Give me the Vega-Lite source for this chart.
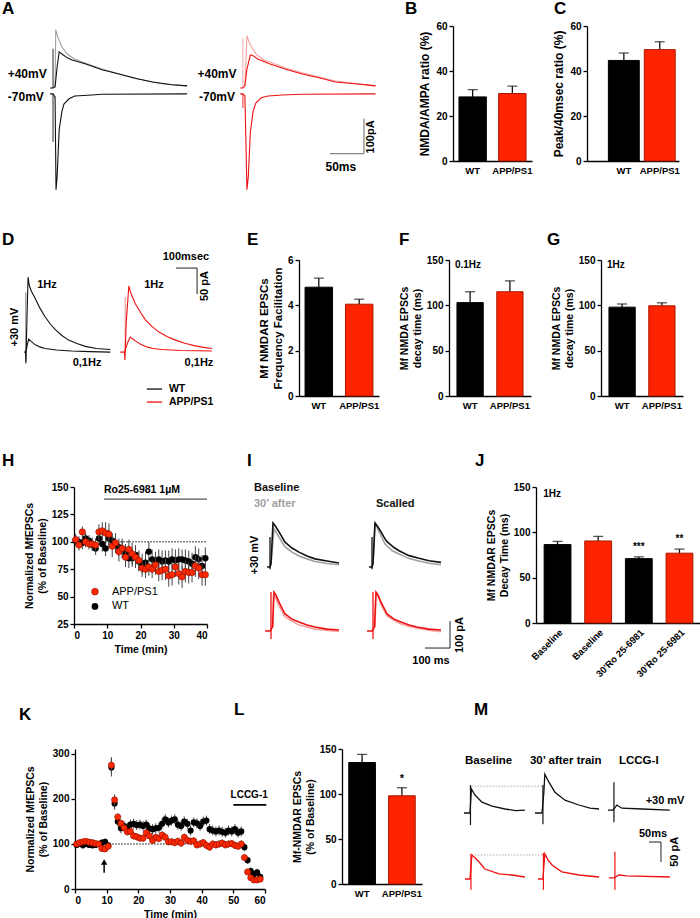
{
"$schema": "https://vega.github.io/schema/vega-lite/v6.json",
"background": "white",
"padding": {"left": 2, "top": 0, "right": 0, "bottom": 0},
"config": {
  "font": "Arial",
  "view": {"stroke": null},
  "axis": {"domainColor": "#000", "domainWidth": 1.3, "tickColor": "#000", "tickWidth": 1.3, "tickSize": 4, "labelFontSize": 10, "labelFontWeight": "bold", "labelColor": "#000", "titleFontSize": 10.5, "titleFontWeight": "bold", "titleColor": "#000", "grid": false, "labelPadding": 2, "titlePadding": 4},
  "axisBand": {"ticks": false, "labelPadding": 4, "labelFontSize": 9.5},
  "title": {"fontSize": 17, "fontWeight": "bold", "anchor": "start", "frame": "group", "color": "#000"},
  "text": {"fontWeight": "bold", "color": "#000", "fontSize": 11}
},
"datasets": {
  "A_bg": [
    {"tr":"a2","g":"WTgray","t":78,"i":0},{"tr":"a2","g":"WTgray","t":79,"i":163},{"tr":"a2","g":"WTgray","t":82,"i":143},{"tr":"a2","g":"WTgray","t":88,"i":114},{"tr":"a2","g":"WTgray","t":96,"i":94},{"tr":"a2","g":"WTgray","t":106,"i":80},{"tr":"a2","g":"WTgray","t":118,"i":71},{"tr":"a2","g":"WTgray","t":147,"i":51},{"tr":"a2","g":"WTgray","t":191,"i":26},{"tr":"a2","g":"WTgray","t":235,"i":9},{"tr":"a2","g":"WTgray","t":272,"i":3},
    {"tr":"a5","g":"APPpink","t":357,"i":3},{"tr":"a5","g":"APPpink","t":360,"i":146},{"tr":"a5","g":"APPpink","t":363,"i":129},{"tr":"a5","g":"APPpink","t":368,"i":109},{"tr":"a5","g":"APPpink","t":375,"i":91},{"tr":"a5","g":"APPpink","t":385,"i":77},{"tr":"a5","g":"APPpink","t":397,"i":69},{"tr":"a5","g":"APPpink","t":416,"i":54},{"tr":"a5","g":"APPpink","t":441,"i":40},{"tr":"a5","g":"APPpink","t":490,"i":17},{"tr":"a5","g":"APPpink","t":549,"i":3}
  ],
  "A_fg": [
    {"tr":"a1","g":"WT","t":70.6,"i":-3},{"tr":"a1","g":"WT","t":75,"i":-3},{"tr":"a1","g":"WT","t":78,"i":0},{"tr":"a1","g":"WT","t":81,"i":57},{"tr":"a1","g":"WT","t":84,"i":100},{"tr":"a1","g":"WT","t":88,"i":94},{"tr":"a1","g":"WT","t":96,"i":83},{"tr":"a1","g":"WT","t":103,"i":77},{"tr":"a1","g":"WT","t":122,"i":66},{"tr":"a1","g":"WT","t":147,"i":49},{"tr":"a1","g":"WT","t":172,"i":37},{"tr":"a1","g":"WT","t":199,"i":23},{"tr":"a1","g":"WT","t":221,"i":14},{"tr":"a1","g":"WT","t":250,"i":6},{"tr":"a1","g":"WT","t":272,"i":3},
    {"tr":"a3","g":"WT","t":70.6,"i":-20},{"tr":"a3","g":"WT","t":75,"i":-20},{"tr":"a3","g":"WT","t":78,"i":-29},{"tr":"a3","g":"WT","t":79.4,"i":-294},{"tr":"a3","g":"WT","t":81,"i":-257},{"tr":"a3","g":"WT","t":84,"i":-123},{"tr":"a3","g":"WT","t":88,"i":-71},{"tr":"a3","g":"WT","t":91,"i":-49},{"tr":"a3","g":"WT","t":98.5,"i":-34},{"tr":"a3","g":"WT","t":107,"i":-26},{"tr":"a3","g":"WT","t":132,"i":-23},{"tr":"a3","g":"WT","t":147,"i":-21},{"tr":"a3","g":"WT","t":272,"i":-20},
    {"tr":"a4","g":"APP","t":350,"i":-3},{"tr":"a4","g":"APP","t":354,"i":-3},{"tr":"a4","g":"APP","t":357,"i":3},{"tr":"a4","g":"APP","t":360,"i":51},{"tr":"a4","g":"APP","t":365,"i":91},{"tr":"a4","g":"APP","t":369,"i":89},{"tr":"a4","g":"APP","t":376,"i":80},{"tr":"a4","g":"APP","t":393,"i":66},{"tr":"a4","g":"APP","t":416,"i":51},{"tr":"a4","g":"APP","t":441,"i":37},{"tr":"a4","g":"APP","t":466,"i":26},{"tr":"a4","g":"APP","t":490,"i":14},{"tr":"a4","g":"APP","t":519,"i":9},{"tr":"a4","g":"APP","t":549,"i":3},
    {"tr":"a6","g":"APP","t":350,"i":-20},{"tr":"a6","g":"APP","t":354,"i":-20},{"tr":"a6","g":"APP","t":357,"i":-26},{"tr":"a6","g":"APP","t":360,"i":-294},{"tr":"a6","g":"APP","t":362,"i":-257},{"tr":"a6","g":"APP","t":365,"i":-129},{"tr":"a6","g":"APP","t":369,"i":-71},{"tr":"a6","g":"APP","t":373,"i":-46},{"tr":"a6","g":"APP","t":381,"i":-31},{"tr":"a6","g":"APP","t":391,"i":-26},{"tr":"a6","g":"APP","t":412,"i":-23},{"tr":"a6","g":"APP","t":441,"i":-21},{"tr":"a6","g":"APP","t":549,"i":-20}
  ],
  "A_art": [{"g":"WT","t":75,"i":109,"i2":-3},{"g":"WT","t":75,"i":-20,"i2":-157},{"g":"APPpink","t":354,"i":140,"i2":-3},{"g":"APP","t":354,"i":-20,"i2":-60}],
  "A_sb": [{"t":532,"t2":532,"i":-91,"i2":-191},{"t":482,"t2":532,"i":-191,"i2":-191}],
  "A_txt": [{"t":37,"i":37,"s":"+40mV"},{"t":316,"i":37,"s":"+40mV"},{"t":35,"i":-29,"s":"-70mV"},{"t":316,"i":-29,"s":"-70mV"},{"t":498,"i":-229,"s":"50ms"}],
  "A_vtxt": [{"t":542,"i":-143,"s":"100pA"}],
  "B": [{"g":"WT","v":28.5,"hi":31.7},{"g":"APP/PS1","v":30,"hi":33.3}],
  "C": [{"g":"WT","v":44.7,"hi":48},{"g":"APP/PS1","v":49.5,"hi":53}],
  "D_tr": [
    {"tr":"d1","g":"WT","t":105,"i":0},{"tr":"d1","g":"WT","t":112,"i":0},{"tr":"d1","g":"WT","t":114,"i":-20},{"tr":"d1","g":"WT","t":118,"i":50},{"tr":"d1","g":"WT","t":124,"i":144},{"tr":"d1","g":"WT","t":130,"i":128},{"tr":"d1","g":"WT","t":140,"i":117},{"tr":"d1","g":"WT","t":157,"i":104},{"tr":"d1","g":"WT","t":180,"i":85},{"tr":"d1","g":"WT","t":205,"i":68},{"tr":"d1","g":"WT","t":230,"i":54},{"tr":"d1","g":"WT","t":254,"i":43},{"tr":"d1","g":"WT","t":285,"i":32},{"tr":"d1","g":"WT","t":317,"i":23},{"tr":"d1","g":"WT","t":360,"i":16},{"tr":"d1","g":"WT","t":397,"i":11},{"tr":"d1","g":"WT","t":450,"i":7},{"tr":"d1","g":"WT","t":516,"i":5},
    {"tr":"d2","g":"WT","t":112,"i":0},{"tr":"d2","g":"WT","t":116,"i":5},{"tr":"d2","g":"WT","t":121,"i":15},{"tr":"d2","g":"WT","t":127,"i":25},{"tr":"d2","g":"WT","t":140,"i":20},{"tr":"d2","g":"WT","t":159,"i":14},{"tr":"d2","g":"WT","t":180,"i":10},{"tr":"d2","g":"WT","t":205,"i":7},{"tr":"d2","g":"WT","t":260,"i":4},{"tr":"d2","g":"WT","t":330,"i":2},{"tr":"d2","g":"WT","t":420,"i":1},{"tr":"d2","g":"WT","t":516,"i":0},
    {"tr":"d3","g":"APP","t":563,"i":0},{"tr":"d3","g":"APP","t":583,"i":0},{"tr":"d3","g":"APP","t":585,"i":-15},{"tr":"d3","g":"APP","t":592,"i":60},{"tr":"d3","g":"APP","t":604,"i":127},{"tr":"d3","g":"APP","t":612,"i":115},{"tr":"d3","g":"APP","t":635,"i":93},{"tr":"d3","g":"APP","t":660,"i":76},{"tr":"d3","g":"APP","t":683,"i":62},{"tr":"d3","g":"APP","t":715,"i":49},{"tr":"d3","g":"APP","t":746,"i":39},{"tr":"d3","g":"APP","t":785,"i":30},{"tr":"d3","g":"APP","t":826,"i":23},{"tr":"d3","g":"APP","t":870,"i":17},{"tr":"d3","g":"APP","t":921,"i":12},{"tr":"d3","g":"APP","t":960,"i":9},{"tr":"d3","g":"APP","t":1000,"i":7},
    {"tr":"d4","g":"APP","t":583,"i":0},{"tr":"d4","g":"APP","t":590,"i":8},{"tr":"d4","g":"APP","t":600,"i":20},{"tr":"d4","g":"APP","t":611,"i":29},{"tr":"d4","g":"APP","t":620,"i":26},{"tr":"d4","g":"APP","t":637,"i":21},{"tr":"d4","g":"APP","t":660,"i":15},{"tr":"d4","g":"APP","t":690,"i":10},{"tr":"d4","g":"APP","t":720,"i":7},{"tr":"d4","g":"APP","t":760,"i":5},{"tr":"d4","g":"APP","t":850,"i":3},{"tr":"d4","g":"APP","t":1000,"i":2}
  ],
  "D_art": [{"g":"WTgray","t":113,"i":115,"i2":-23},{"g":"APPpink","t":587,"i":106,"i2":-4}],
  "D_sb": [{"t":829,"t2":929,"i":161.5,"i2":161.5},{"t":929,"t2":929,"i":161.5,"i2":111.5}],
  "D_txt": [{"t":214,"i":129,"s":"1Hz"},{"t":405,"i":-21,"s":"0,1Hz"},{"t":724,"i":129,"s":"1Hz"},{"t":938,"i":-21,"s":"0,1Hz"},{"t":876,"i":183,"s":"100msec"}],
  "D_vtxt": [{"t":967,"i":127,"s":"50 pA"},{"t":62,"i":48,"s":"+30 mV"}],
  "D_leg": [{"g":"WT","t":690,"t2":762,"tx":795,"i":-71,"s":"WT"},{"g":"APP","t":690,"t2":762,"tx":795,"i":-96,"s":"APP/PS1"}],
  "E": [{"g":"WT","v":4.8,"hi":5.2},{"g":"APP/PS1","v":4.05,"hi":4.27}],
  "F": [{"g":"WT","v":103,"hi":115},{"g":"APP/PS1","v":115,"hi":127}],
  "G": [{"g":"WT","v":98,"hi":101.5},{"g":"APP/PS1","v":99.5,"hi":102.8}],
  "F_txt": [{"g":"WT","v":144,"s":"0.1Hz"}],
  "G_txt": [{"g":"WT","v":145,"s":"1Hz"}],
  "H": [
    {"t":0.5,"g":"WT","v":101,"e":5},{"t":1.5,"g":"WT","v":100,"e":5},{"t":2.5,"g":"WT","v":99,"e":6},{"t":3.5,"g":"WT","v":103,"e":5},{"t":4.5,"g":"WT","v":101,"e":5},{"t":5.5,"g":"WT","v":97,"e":5},{"t":6.5,"g":"WT","v":94,"e":6},{"t":7.5,"g":"WT","v":103,"e":6},{"t":8.5,"g":"WT","v":98,"e":7},{"t":9.5,"g":"WT","v":94,"e":7},
    {"t":10.5,"g":"WT","v":103,"e":8},{"t":11.5,"g":"WT","v":101,"e":7},{"t":12.5,"g":"WT","v":97,"e":7},{"t":13.5,"g":"WT","v":95,"e":8},{"t":14.5,"g":"WT","v":93,"e":8},{"t":15.5,"g":"WT","v":90,"e":8},{"t":16.5,"g":"WT","v":85,"e":9},{"t":17.5,"g":"WT","v":85,"e":8},{"t":18.5,"g":"WT","v":88,"e":9},{"t":19.5,"g":"WT","v":82,"e":9},
    {"t":20.5,"g":"WT","v":80,"e":9},{"t":21.5,"g":"WT","v":81,"e":10},{"t":22.5,"g":"WT","v":91,"e":9},{"t":23.5,"g":"WT","v":84,"e":9},{"t":24.5,"g":"WT","v":82,"e":9},{"t":25.5,"g":"WT","v":84,"e":9},{"t":26.5,"g":"WT","v":82,"e":10},{"t":27.5,"g":"WT","v":83,"e":9},{"t":28.5,"g":"WT","v":82,"e":10},{"t":29.5,"g":"WT","v":84,"e":10},
    {"t":30.5,"g":"WT","v":83,"e":10},{"t":31.5,"g":"WT","v":84,"e":10},{"t":32.5,"g":"WT","v":84,"e":9},{"t":33.5,"g":"WT","v":83,"e":10},{"t":34.5,"g":"WT","v":82,"e":10},{"t":35.5,"g":"WT","v":80,"e":10},{"t":36.5,"g":"WT","v":86,"e":10},{"t":37.5,"g":"WT","v":84,"e":10},{"t":38.5,"g":"WT","v":78,"e":10},{"t":39.5,"g":"WT","v":85,"e":10},
    {"t":0.5,"g":"APP","v":102,"e":5},{"t":1.5,"g":"APP","v":97,"e":5},{"t":2.5,"g":"APP","v":109,"e":5},{"t":3.5,"g":"APP","v":100,"e":5},{"t":4.5,"g":"APP","v":98,"e":5},{"t":5.5,"g":"APP","v":98,"e":6},{"t":6.5,"g":"APP","v":97,"e":6},{"t":7.5,"g":"APP","v":109,"e":7},{"t":8.5,"g":"APP","v":110,"e":8},{"t":9.5,"g":"APP","v":108,"e":10},
    {"t":10.5,"g":"APP","v":107,"e":10},{"t":11.5,"g":"APP","v":96,"e":10},{"t":12.5,"g":"APP","v":99,"e":9},{"t":13.5,"g":"APP","v":91,"e":9},{"t":14.5,"g":"APP","v":94,"e":9},{"t":15.5,"g":"APP","v":86,"e":9},{"t":16.5,"g":"APP","v":93,"e":9},{"t":17.5,"g":"APP","v":89,"e":10},{"t":18.5,"g":"APP","v":86,"e":10},{"t":19.5,"g":"APP","v":83,"e":9},
    {"t":20.5,"g":"APP","v":76,"e":8},{"t":21.5,"g":"APP","v":75,"e":8},{"t":22.5,"g":"APP","v":77,"e":8},{"t":23.5,"g":"APP","v":75,"e":8},{"t":24.5,"g":"APP","v":79,"e":9},{"t":25.5,"g":"APP","v":73,"e":9},{"t":26.5,"g":"APP","v":74,"e":9},{"t":27.5,"g":"APP","v":75,"e":10},{"t":28.5,"g":"APP","v":69,"e":10},{"t":29.5,"g":"APP","v":70,"e":10},
    {"t":30.5,"g":"APP","v":77,"e":9},{"t":31.5,"g":"APP","v":71,"e":10},{"t":32.5,"g":"APP","v":68,"e":10},{"t":33.5,"g":"APP","v":73,"e":10},{"t":34.5,"g":"APP","v":72,"e":10},{"t":35.5,"g":"APP","v":72,"e":9},{"t":36.5,"g":"APP","v":78,"e":10},{"t":37.5,"g":"APP","v":76,"e":10},{"t":38.5,"g":"APP","v":70,"e":10},{"t":39.5,"g":"APP","v":70,"e":10}
  ],
  "H_dot": [{"t":8.5,"t2":40,"v":100}],
  "H_ro": [{"t":9,"t2":40,"v":139}],
  "H_rotxt": [{"t":9,"v":147,"s":"Ro25-6981 1µM"}],
  "H_leg": [{"g":"APP","t":6.3,"tx":11.4,"v":54.5,"s":"APP/PS1"},{"g":"WT","t":6.3,"tx":11.4,"v":41,"s":"WT"}],
  "I_bg": [
    {"tr":"i2","g":"WTgray","t":256,"i":0},{"tr":"i2","g":"WTgray","t":268,"i":130},{"tr":"i2","g":"WTgray","t":276,"i":119},{"tr":"i2","g":"WTgray","t":288,"i":100},{"tr":"i2","g":"WTgray","t":312,"i":63},{"tr":"i2","g":"WTgray","t":340,"i":44},{"tr":"i2","g":"WTgray","t":368,"i":30},{"tr":"i2","g":"WTgray","t":400,"i":19},{"tr":"i2","g":"WTgray","t":432,"i":9},{"tr":"i2","g":"WTgray","t":480,"i":2},{"tr":"i2","g":"WTgray","t":528,"i":-3},
    {"tr":"i4","g":"WTgray","t":664,"i":0},{"tr":"i4","g":"WTgray","t":672,"i":152},{"tr":"i4","g":"WTgray","t":680,"i":135},{"tr":"i4","g":"WTgray","t":696,"i":105},{"tr":"i4","g":"WTgray","t":712,"i":74},{"tr":"i4","g":"WTgray","t":740,"i":50},{"tr":"i4","g":"WTgray","t":768,"i":37},{"tr":"i4","g":"WTgray","t":808,"i":20},{"tr":"i4","g":"WTgray","t":848,"i":11},{"tr":"i4","g":"WTgray","t":888,"i":3},{"tr":"i4","g":"WTgray","t":936,"i":-3},
    {"tr":"i6","g":"APPpink","t":264,"i":-233},{"tr":"i6","g":"APPpink","t":266,"i":-111},{"tr":"i6","g":"APPpink","t":276,"i":-130},{"tr":"i6","g":"APPpink","t":288,"i":-155},{"tr":"i6","g":"APPpink","t":312,"i":-196},{"tr":"i6","g":"APPpink","t":340,"i":-211},{"tr":"i6","g":"APPpink","t":368,"i":-226},{"tr":"i6","g":"APPpink","t":400,"i":-233},{"tr":"i6","g":"APPpink","t":432,"i":-241},{"tr":"i6","g":"APPpink","t":528,"i":-250},
    {"tr":"i8","g":"APPpink","t":672,"i":-233},{"tr":"i8","g":"APPpink","t":676,"i":-104},{"tr":"i8","g":"APPpink","t":684,"i":-120},{"tr":"i8","g":"APPpink","t":696,"i":-150},{"tr":"i8","g":"APPpink","t":720,"i":-192},{"tr":"i8","g":"APPpink","t":748,"i":-208},{"tr":"i8","g":"APPpink","t":776,"i":-222},{"tr":"i8","g":"APPpink","t":808,"i":-231},{"tr":"i8","g":"APPpink","t":840,"i":-238},{"tr":"i8","g":"APPpink","t":888,"i":-245},{"tr":"i8","g":"APPpink","t":936,"i":-251}
  ],
  "I_fg": [
    {"tr":"i1","g":"WT","t":240,"i":-11},{"tr":"i1","g":"WT","t":252,"i":-11},{"tr":"i1","g":"WT","t":256,"i":0},{"tr":"i1","g":"WT","t":264,"i":152},{"tr":"i1","g":"WT","t":276,"i":137},{"tr":"i1","g":"WT","t":288,"i":119},{"tr":"i1","g":"WT","t":312,"i":81},{"tr":"i1","g":"WT","t":340,"i":59},{"tr":"i1","g":"WT","t":368,"i":44},{"tr":"i1","g":"WT","t":400,"i":30},{"tr":"i1","g":"WT","t":432,"i":19},{"tr":"i1","g":"WT","t":480,"i":11},{"tr":"i1","g":"WT","t":528,"i":4},
    {"tr":"i3","g":"WT","t":648,"i":-11},{"tr":"i3","g":"WT","t":660,"i":-11},{"tr":"i3","g":"WT","t":664,"i":0},{"tr":"i3","g":"WT","t":672,"i":152},{"tr":"i3","g":"WT","t":684,"i":137},{"tr":"i3","g":"WT","t":696,"i":119},{"tr":"i3","g":"WT","t":712,"i":93},{"tr":"i3","g":"WT","t":720,"i":83},{"tr":"i3","g":"WT","t":748,"i":61},{"tr":"i3","g":"WT","t":768,"i":49},{"tr":"i3","g":"WT","t":808,"i":31},{"tr":"i3","g":"WT","t":848,"i":21},{"tr":"i3","g":"WT","t":888,"i":12},{"tr":"i3","g":"WT","t":936,"i":6},
    {"tr":"i5","g":"APP","t":232,"i":-248},{"tr":"i5","g":"APP","t":252,"i":-248},{"tr":"i5","g":"APP","t":262,"i":-233},{"tr":"i5","g":"APP","t":268,"i":-104},{"tr":"i5","g":"APP","t":276,"i":-115},{"tr":"i5","g":"APP","t":288,"i":-141},{"tr":"i5","g":"APP","t":312,"i":-185},{"tr":"i5","g":"APP","t":340,"i":-204},{"tr":"i5","g":"APP","t":368,"i":-215},{"tr":"i5","g":"APP","t":400,"i":-226},{"tr":"i5","g":"APP","t":432,"i":-233},{"tr":"i5","g":"APP","t":480,"i":-241},{"tr":"i5","g":"APP","t":528,"i":-244},
    {"tr":"i7","g":"APP","t":640,"i":-248},{"tr":"i7","g":"APP","t":660,"i":-248},{"tr":"i7","g":"APP","t":670,"i":-233},{"tr":"i7","g":"APP","t":676,"i":-104},{"tr":"i7","g":"APP","t":684,"i":-115},{"tr":"i7","g":"APP","t":696,"i":-141},{"tr":"i7","g":"APP","t":720,"i":-185},{"tr":"i7","g":"APP","t":748,"i":-204},{"tr":"i7","g":"APP","t":776,"i":-215},{"tr":"i7","g":"APP","t":808,"i":-226},{"tr":"i7","g":"APP","t":840,"i":-233},{"tr":"i7","g":"APP","t":888,"i":-241},{"tr":"i7","g":"APP","t":936,"i":-244}
  ],
  "I_art": [{"g":"WT","t":252,"i":100,"i2":-19},{"g":"WT","t":660,"i":100,"i2":-19},{"g":"APP","t":256,"i":-104,"i2":-278},{"g":"APP","t":664,"i":-104,"i2":-278}],
  "I_sb": [{"t":872,"t2":972,"i":-311,"i2":-311},{"t":972,"t2":972,"i":-211,"i2":-311}],
  "I_txtL": [{"g":"WT","t":188,"i":281,"s":"Baseline"},{"g":"WTgray","t":188,"i":222,"s":"30’ after"},{"g":"WT","t":676,"i":222,"s":"Scalled"}],
  "I_txtC": [{"g":"WT","t":896,"i":-359,"s":"100 ms"}],
  "I_vtxt": [{"g":"WT","t":192,"i":33,"s":"+30 mV"},{"g":"WT","t":1012,"i":-263,"s":"100 pA"}],
  "J": [{"c":"b1","g":"WT","v":86.5,"hi":90},{"c":"b2","g":"APP/PS1","v":90.5,"hi":95.5},{"c":"r1","g":"WT","v":71,"hi":73},{"c":"r2","g":"APP/PS1","v":77,"hi":81.5}],
  "J_stars": [{"c":"r1","v":84,"s":"***"},{"c":"r2","v":92.5,"s":"**"}],
  "J_hz": [{"c":"b1","v":142,"s":"1Hz"}],
  "K": [
    {"t":0.5,"g":"WT","v":98,"e":6},{"t":1.5,"g":"WT","v":100,"e":6},{"t":2.5,"g":"WT","v":97,"e":6},{"t":3.5,"g":"WT","v":100,"e":6},{"t":4.5,"g":"WT","v":98,"e":6},{"t":5.5,"g":"WT","v":97,"e":6},{"t":6.5,"g":"WT","v":98,"e":6},{"t":7.5,"g":"WT","v":100,"e":6},{"t":8.5,"g":"WT","v":103,"e":6},{"t":9.5,"g":"WT","v":105,"e":7},
    {"t":10.5,"g":"WT","v":97,"e":6},{"t":11.5,"g":"WT","v":270,"e":20},{"t":12.5,"g":"WT","v":190,"e":14},{"t":13.5,"g":"WT","v":150,"e":11},{"t":14.5,"g":"WT","v":135,"e":11},{"t":15.5,"g":"WT","v":140,"e":11},{"t":16.5,"g":"WT","v":136,"e":11},{"t":17.5,"g":"WT","v":143,"e":11},{"t":18.5,"g":"WT","v":145,"e":11},{"t":19.5,"g":"WT","v":142,"e":11},
    {"t":20.5,"g":"WT","v":143,"e":11},{"t":21.5,"g":"WT","v":140,"e":11},{"t":22.5,"g":"WT","v":143,"e":11},{"t":23.5,"g":"WT","v":135,"e":11},{"t":24.5,"g":"WT","v":133,"e":11},{"t":25.5,"g":"WT","v":135,"e":11},{"t":26.5,"g":"WT","v":136,"e":11},{"t":27.5,"g":"WT","v":145,"e":11},{"t":28.5,"g":"WT","v":155,"e":11},{"t":29.5,"g":"WT","v":148,"e":11},
    {"t":30.5,"g":"WT","v":152,"e":11},{"t":31.5,"g":"WT","v":155,"e":11},{"t":32.5,"g":"WT","v":143,"e":11},{"t":33.5,"g":"WT","v":140,"e":11},{"t":34.5,"g":"WT","v":150,"e":11},{"t":35.5,"g":"WT","v":145,"e":11},{"t":36.5,"g":"WT","v":130,"e":11},{"t":37.5,"g":"WT","v":148,"e":11},{"t":38.5,"g":"WT","v":146,"e":11},{"t":39.5,"g":"WT","v":140,"e":11},
    {"t":40.5,"g":"WT","v":150,"e":11},{"t":41.5,"g":"WT","v":152,"e":11},{"t":42.5,"g":"WT","v":133,"e":11},{"t":43.5,"g":"WT","v":130,"e":11},{"t":44.5,"g":"WT","v":128,"e":11},{"t":45.5,"g":"WT","v":130,"e":11},{"t":46.5,"g":"WT","v":127,"e":11},{"t":47.5,"g":"WT","v":125,"e":11},{"t":48.5,"g":"WT","v":130,"e":11},{"t":49.5,"g":"WT","v":128,"e":11},
    {"t":50.5,"g":"WT","v":133,"e":11},{"t":51.5,"g":"WT","v":125,"e":11},{"t":52.5,"g":"WT","v":128,"e":11},{"t":53.5,"g":"WT","v":93,"e":9},{"t":54.5,"g":"WT","v":64,"e":8},{"t":55.5,"g":"WT","v":40,"e":8},{"t":56.5,"g":"WT","v":33,"e":8},{"t":57.5,"g":"WT","v":37,"e":8},{"t":58.5,"g":"WT","v":27,"e":8},
    {"t":0.5,"g":"APP","v":100,"e":6},{"t":1.5,"g":"APP","v":103,"e":6},{"t":2.5,"g":"APP","v":105,"e":6},{"t":3.5,"g":"APP","v":106,"e":6},{"t":4.5,"g":"APP","v":104,"e":6},{"t":5.5,"g":"APP","v":103,"e":6},{"t":6.5,"g":"APP","v":101,"e":6},{"t":7.5,"g":"APP","v":100,"e":6},{"t":8.5,"g":"APP","v":90,"e":6},{"t":9.5,"g":"APP","v":89,"e":6},
    {"t":10.5,"g":"APP","v":95,"e":6},{"t":11.5,"g":"APP","v":275,"e":18},{"t":12.5,"g":"APP","v":198,"e":12},{"t":13.5,"g":"APP","v":160,"e":8},{"t":14.5,"g":"APP","v":146,"e":8},{"t":15.5,"g":"APP","v":136,"e":8},{"t":16.5,"g":"APP","v":127,"e":8},{"t":17.5,"g":"APP","v":128,"e":8},{"t":18.5,"g":"APP","v":118,"e":8},{"t":19.5,"g":"APP","v":116,"e":8},
    {"t":20.5,"g":"APP","v":113,"e":8},{"t":21.5,"g":"APP","v":113,"e":8},{"t":22.5,"g":"APP","v":125,"e":8},{"t":23.5,"g":"APP","v":118,"e":8},{"t":24.5,"g":"APP","v":108,"e":8},{"t":25.5,"g":"APP","v":115,"e":8},{"t":26.5,"g":"APP","v":112,"e":8},{"t":27.5,"g":"APP","v":120,"e":8},{"t":28.5,"g":"APP","v":115,"e":8},{"t":29.5,"g":"APP","v":105,"e":8},
    {"t":30.5,"g":"APP","v":105,"e":8},{"t":31.5,"g":"APP","v":103,"e":8},{"t":32.5,"g":"APP","v":106,"e":8},{"t":33.5,"g":"APP","v":102,"e":8},{"t":34.5,"g":"APP","v":115,"e":8},{"t":35.5,"g":"APP","v":108,"e":8},{"t":36.5,"g":"APP","v":106,"e":8},{"t":37.5,"g":"APP","v":107,"e":8},{"t":38.5,"g":"APP","v":98,"e":8},{"t":39.5,"g":"APP","v":100,"e":8},
    {"t":40.5,"g":"APP","v":103,"e":8},{"t":41.5,"g":"APP","v":97,"e":8},{"t":42.5,"g":"APP","v":93,"e":8},{"t":43.5,"g":"APP","v":100,"e":8},{"t":44.5,"g":"APP","v":98,"e":8},{"t":45.5,"g":"APP","v":100,"e":8},{"t":46.5,"g":"APP","v":102,"e":8},{"t":47.5,"g":"APP","v":98,"e":8},{"t":48.5,"g":"APP","v":100,"e":8},{"t":49.5,"g":"APP","v":101,"e":8},
    {"t":50.5,"g":"APP","v":97,"e":8},{"t":51.5,"g":"APP","v":95,"e":8},{"t":52.5,"g":"APP","v":100,"e":8},{"t":53.5,"g":"APP","v":70,"e":6},{"t":54.5,"g":"APP","v":38,"e":5},{"t":55.5,"g":"APP","v":25,"e":4},{"t":56.5,"g":"APP","v":20,"e":4},{"t":57.5,"g":"APP","v":20,"e":4},{"t":58.5,"g":"APP","v":22,"e":4}
  ],
  "K_dot": [{"t":10.8,"t2":50,"v":100}],
  "K_bar": [{"t":50,"t2":60.4,"v":187}],
  "K_txt": [{"t":55,"v":209,"s":"LCCG-1"}],
  "K_arr": [{"t":9.2,"v":36,"v2":55}],
  "K_head": [{"t":9.2,"v":60}],
  "L": [{"g":"WT","v":135,"hi":144},{"g":"APP/PS1","v":98,"hi":107}],
  "L_txt": [{"g":"APP/PS1","v":117,"s":"*"}],
  "M_fg": [
    {"tr":"m1","g":"WT","t":175,"i":0},{"tr":"m1","g":"WT","t":200,"i":0},{"tr":"m1","g":"WT","t":206,"i":60},{"tr":"m1","g":"WT","t":221,"i":45},{"tr":"m1","g":"WT","t":250,"i":27},{"tr":"m1","g":"WT","t":292,"i":17},{"tr":"m1","g":"WT","t":346,"i":10},{"tr":"m1","g":"WT","t":390,"i":6},{"tr":"m1","g":"WT","t":429,"i":7},
    {"tr":"m2","g":"WT","t":471,"i":0},{"tr":"m2","g":"WT","t":500,"i":0},{"tr":"m2","g":"WT","t":508,"i":52},{"tr":"m2","g":"WT","t":512,"i":97},{"tr":"m2","g":"WT","t":529,"i":77},{"tr":"m2","g":"WT","t":554,"i":52},{"tr":"m2","g":"WT","t":596,"i":32},{"tr":"m2","g":"WT","t":654,"i":20},{"tr":"m2","g":"WT","t":700,"i":12},{"tr":"m2","g":"WT","t":738,"i":10},
    {"tr":"m3","g":"WT","t":775,"i":7},{"tr":"m3","g":"WT","t":796,"i":7},{"tr":"m3","g":"WT","t":812,"i":20},{"tr":"m3","g":"WT","t":833,"i":12},{"tr":"m3","g":"WT","t":917,"i":10},{"tr":"m3","g":"WT","t":1033,"i":7},
    {"tr":"m4","g":"APP","t":179,"i":-165},{"tr":"m4","g":"APP","t":200,"i":-165},{"tr":"m4","g":"APP","t":208,"i":-105},{"tr":"m4","g":"APP","t":221,"i":-112},{"tr":"m4","g":"APP","t":237,"i":-122},{"tr":"m4","g":"APP","t":262,"i":-140},{"tr":"m4","g":"APP","t":321,"i":-152},{"tr":"m4","g":"APP","t":375,"i":-155},{"tr":"m4","g":"APP","t":429,"i":-160},
    {"tr":"m5","g":"APP","t":483,"i":-165},{"tr":"m5","g":"APP","t":504,"i":-165},{"tr":"m5","g":"APP","t":512,"i":-102},{"tr":"m5","g":"APP","t":525,"i":-117},{"tr":"m5","g":"APP","t":542,"i":-130},{"tr":"m5","g":"APP","t":583,"i":-147},{"tr":"m5","g":"APP","t":654,"i":-155},{"tr":"m5","g":"APP","t":738,"i":-160},
    {"tr":"m6","g":"APP","t":779,"i":-162},{"tr":"m6","g":"APP","t":800,"i":-162},{"tr":"m6","g":"APP","t":821,"i":-155},{"tr":"m6","g":"APP","t":854,"i":-157},{"tr":"m6","g":"APP","t":1033,"i":-160}
  ],
  "M_art": [{"g":"WT","t":202,"i":70,"i2":-30},{"g":"WT","t":504,"i":70,"i2":-28},{"g":"WT","t":800,"i":77,"i2":-23},{"g":"APP","t":204,"i":-102,"i2":-192},{"g":"APP","t":506,"i":-100,"i2":-192},{"g":"APP","t":804,"i":-97,"i2":-192}],
  "M_dot": [{"t":206,"t2":500,"i":67},{"t":208,"t2":512,"i":-105}],
  "M_sb": [{"t":946,"t2":996,"i":-72.5,"i2":-72.5},{"t":996,"t2":996,"i":-72.5,"i2":-122.5}],
  "M_txtL": [{"t":179,"i":130,"s":"Baseline"},{"t":450,"i":130,"s":"30’ after train"},{"t":821,"i":130,"s":"LCCG-I"}],
  "M_txtC": [{"t":1013,"i":30,"s":"+30 mV"},{"t":963,"i":-52,"s":"50ms"}],
  "M_vtxt": [{"t":1054,"i":-97,"s":"50 pA"}]
},
"spacing": 0,
"vconcat": [
 {"hconcat": [
  {"width": 396, "height": 204,
   "title": {"text": "A", "dx": 0, "offset": 8},
   "layer": [
    {"data": {"name": "A_bg"}, "mark": {"type": "line", "strokeWidth": 1.1},
     "encoding": {"x": {"field": "t", "type": "quantitative", "scale": {"domain": [0, 582], "nice": false, "zero": false}, "axis": null},
                  "y": {"field": "i", "type": "quantitative", "scale": {"domain": [-409, 174], "nice": false, "zero": false}, "axis": null},
                  "color": {"field": "g", "type": "nominal", "scale": {"domain": ["WT","WTgray","APP","APPpink"], "range": ["#111111","#a0a0a0","#ee1111","#f5a0a0"]}, "legend": null},
                  "detail": {"field": "tr", "type": "nominal"}}},
    {"data": {"name": "A_art"}, "mark": {"type": "rule", "strokeWidth": 1.2, "opacity": 0.75},
     "encoding": {"x": {"field": "t", "type": "quantitative", "scale": {"domain": [0, 582], "nice": false, "zero": false}, "axis": null},
                  "y": {"field": "i", "type": "quantitative", "scale": {"domain": [-409, 174], "nice": false, "zero": false}, "axis": null},
                  "y2": {"field": "i2"},
                  "color": {"field": "g", "type": "nominal", "scale": {"domain": ["WT","WTgray","APP","APPpink"], "range": ["#111111","#a0a0a0","#ee1111","#f5a0a0"]}, "legend": null}}},
    {"data": {"name": "A_fg"}, "mark": {"type": "line", "strokeWidth": 1.1},
     "encoding": {"x": {"field": "t", "type": "quantitative", "scale": {"domain": [0, 582], "nice": false, "zero": false}, "axis": null},
                  "y": {"field": "i", "type": "quantitative", "scale": {"domain": [-409, 174], "nice": false, "zero": false}, "axis": null},
                  "color": {"field": "g", "type": "nominal", "scale": {"domain": ["WT","WTgray","APP","APPpink"], "range": ["#111111","#a0a0a0","#ee1111","#f5a0a0"]}, "legend": null},
                  "detail": {"field": "tr", "type": "nominal"}}},
    {"data": {"name": "A_sb"}, "mark": {"type": "rule", "color": "#666666", "strokeWidth": 1},
     "encoding": {"x": {"field": "t", "type": "quantitative", "scale": {"domain": [0, 582], "nice": false, "zero": false}, "axis": null},
                  "x2": {"field": "t2"},
                  "y": {"field": "i", "type": "quantitative", "scale": {"domain": [-409, 174], "nice": false, "zero": false}, "axis": null},
                  "y2": {"field": "i2"}}},
    {"data": {"name": "A_txt"}, "mark": {"type": "text", "fontSize": 12, "align": "center", "baseline": "middle"},
     "encoding": {"x": {"field": "t", "type": "quantitative", "scale": {"domain": [0, 582], "nice": false, "zero": false}, "axis": null},
                  "y": {"field": "i", "type": "quantitative", "scale": {"domain": [-409, 174], "nice": false, "zero": false}, "axis": null},
                  "text": {"field": "s"}}},
    {"data": {"name": "A_vtxt"}, "mark": {"type": "text", "fontSize": 11, "angle": 270, "align": "center", "baseline": "middle"},
     "encoding": {"x": {"field": "t", "type": "quantitative", "scale": {"domain": [0, 582], "nice": false, "zero": false}, "axis": null},
                  "y": {"field": "i", "type": "quantitative", "scale": {"domain": [-409, 174], "nice": false, "zero": false}, "axis": null},
                  "text": {"field": "s"}}}
   ]},
  {"width": 79, "height": 135,
   "title": {"text": "B", "dx": -48, "offset": 3},
   "data": {"name": "B"},
   "encoding": {"x": {"field": "g", "type": "nominal", "sort": null, "scale": {"paddingInner": 0.31, "paddingOuter": 0.15}, "axis": {"title": null, "labelAngle": 0}}},
   "layer": [
    {"mark": {"type": "rule", "strokeWidth": 1.3},
     "encoding": {"y": {"field": "v", "type": "quantitative", "scale": {"domain": [0, 60], "nice": false}, "axis": {"values": [0, 20, 40, 60], "title": "NMDA/AMPA ratio (%)", "titleFontSize": 12}},
                  "y2": {"field": "hi"},
                  "color": {"field": "g", "type": "nominal", "scale": {"domain": ["WT", "APP/PS1"], "range": ["#000000", "#8a1200"]}, "legend": null}}},
    {"mark": {"type": "tick", "thickness": 1.3, "size": 10},
     "encoding": {"y": {"field": "hi", "type": "quantitative", "scale": {"domain": [0, 60], "nice": false}, "axis": {"values": [0, 20, 40, 60], "title": "NMDA/AMPA ratio (%)", "titleFontSize": 12}},
                  "color": {"field": "g", "type": "nominal", "scale": {"domain": ["WT", "APP/PS1"], "range": ["#000000", "#8a1200"]}, "legend": null}}},
    {"mark": {"type": "bar", "strokeWidth": 1},
     "encoding": {"y": {"field": "v", "type": "quantitative", "scale": {"domain": [0, 60], "nice": false}, "axis": {"values": [0, 20, 40, 60], "title": "NMDA/AMPA ratio (%)", "titleFontSize": 12}},
                  "fill": {"field": "g", "type": "nominal", "scale": {"domain": ["WT", "APP/PS1"], "range": ["#000000", "#ff2400"]}, "legend": null},
                  "stroke": {"field": "g", "type": "nominal", "scale": {"domain": ["WT", "APP/PS1"], "range": ["#000000", "#a81800"]}, "legend": null}}}
   ]},
  {"width": 92, "height": 135,
   "title": {"text": "C", "dx": -33, "offset": 3},
   "data": {"name": "C"},
   "encoding": {"x": {"field": "g", "type": "nominal", "sort": null, "scale": {"paddingInner": 0.14, "paddingOuter": 0.35, "align": 0.85}, "axis": {"title": null, "labelAngle": 0}}},
   "layer": [
    {"mark": {"type": "rule", "strokeWidth": 1.3},
     "encoding": {"y": {"field": "v", "type": "quantitative", "scale": {"domain": [0, 60], "nice": false}, "axis": {"values": [0, 20, 40, 60], "title": "Peak/40msec ratio (%)", "titleFontSize": 12}},
                  "y2": {"field": "hi"},
                  "color": {"field": "g", "type": "nominal", "scale": {"domain": ["WT", "APP/PS1"], "range": ["#000000", "#8a1200"]}, "legend": null}}},
    {"mark": {"type": "tick", "thickness": 1.3, "size": 10},
     "encoding": {"y": {"field": "hi", "type": "quantitative", "scale": {"domain": [0, 60], "nice": false}, "axis": {"values": [0, 20, 40, 60], "title": "Peak/40msec ratio (%)", "titleFontSize": 12}},
                  "color": {"field": "g", "type": "nominal", "scale": {"domain": ["WT", "APP/PS1"], "range": ["#000000", "#8a1200"]}, "legend": null}}},
    {"mark": {"type": "bar", "strokeWidth": 1},
     "encoding": {"y": {"field": "v", "type": "quantitative", "scale": {"domain": [0, 60], "nice": false}, "axis": {"values": [0, 20, 40, 60], "title": "Peak/40msec ratio (%)", "titleFontSize": 12}},
                  "fill": {"field": "g", "type": "nominal", "scale": {"domain": ["WT", "APP/PS1"], "range": ["#000000", "#ff2400"]}, "legend": null},
                  "stroke": {"field": "g", "type": "nominal", "scale": {"domain": ["WT", "APP/PS1"], "range": ["#000000", "#a81800"]}, "legend": null}}}
   ]}
 ], "spacing": 55, "bounds": "flush"},
 {"hconcat": [
  {"width": 227, "height": 192,
   "title": {"text": "D", "dx": 0, "offset": 2},
   "layer": [
    {"data": {"name": "D_art"}, "mark": {"type": "rule", "strokeWidth": 1.3},
     "encoding": {"x": {"field": "t", "type": "quantitative", "scale": {"domain": [0, 1081], "nice": false, "zero": false}, "axis": null},
                  "y": {"field": "i", "type": "quantitative", "scale": {"domain": [-192, 177], "nice": false, "zero": false}, "axis": null},
                  "y2": {"field": "i2"},
                  "color": {"field": "g", "type": "nominal", "scale": {"domain": ["WT","WTgray","APP","APPpink"], "range": ["#111111","#8a8a8a","#ee1111","#f5a0a0"]}, "legend": null}}},
    {"data": {"name": "D_tr"}, "mark": {"type": "line", "strokeWidth": 1.1},
     "encoding": {"x": {"field": "t", "type": "quantitative", "scale": {"domain": [0, 1081], "nice": false, "zero": false}, "axis": null},
                  "y": {"field": "i", "type": "quantitative", "scale": {"domain": [-192, 177], "nice": false, "zero": false}, "axis": null},
                  "color": {"field": "g", "type": "nominal", "scale": {"domain": ["WT","WTgray","APP","APPpink"], "range": ["#111111","#8a8a8a","#ee1111","#f5a0a0"]}, "legend": null},
                  "detail": {"field": "tr", "type": "nominal"}}},
    {"data": {"name": "D_sb"}, "mark": {"type": "rule", "color": "#222222", "strokeWidth": 1},
     "encoding": {"x": {"field": "t", "type": "quantitative", "scale": {"domain": [0, 1081], "nice": false, "zero": false}, "axis": null},
                  "x2": {"field": "t2"},
                  "y": {"field": "i", "type": "quantitative", "scale": {"domain": [-192, 177], "nice": false, "zero": false}, "axis": null},
                  "y2": {"field": "i2"}}},
    {"data": {"name": "D_leg"}, "mark": {"type": "rule", "strokeWidth": 1.3},
     "encoding": {"x": {"field": "t", "type": "quantitative", "scale": {"domain": [0, 1081], "nice": false, "zero": false}, "axis": null},
                  "x2": {"field": "t2"},
                  "y": {"field": "i", "type": "quantitative", "scale": {"domain": [-192, 177], "nice": false, "zero": false}, "axis": null},
                  "color": {"field": "g", "type": "nominal", "scale": {"domain": ["WT","WTgray","APP","APPpink"], "range": ["#111111","#8a8a8a","#ee1111","#f5a0a0"]}, "legend": null}}},
    {"data": {"name": "D_leg"}, "mark": {"type": "text", "fontSize": 10.5, "align": "left", "baseline": "middle"},
     "encoding": {"x": {"field": "tx", "type": "quantitative", "scale": {"domain": [0, 1081], "nice": false, "zero": false}, "axis": null},
                  "y": {"field": "i", "type": "quantitative", "scale": {"domain": [-192, 177], "nice": false, "zero": false}, "axis": null},
                  "text": {"field": "s"}}},
    {"data": {"name": "D_txt"}, "mark": {"type": "text", "fontSize": 11, "align": "center", "baseline": "middle"},
     "encoding": {"x": {"field": "t", "type": "quantitative", "scale": {"domain": [0, 1081], "nice": false, "zero": false}, "axis": null},
                  "y": {"field": "i", "type": "quantitative", "scale": {"domain": [-192, 177], "nice": false, "zero": false}, "axis": null},
                  "text": {"field": "s"}}},
    {"data": {"name": "D_vtxt"}, "mark": {"type": "text", "fontSize": 11, "angle": 270, "align": "center", "baseline": "middle"},
     "encoding": {"x": {"field": "t", "type": "quantitative", "scale": {"domain": [0, 1081], "nice": false, "zero": false}, "axis": null},
                  "y": {"field": "i", "type": "quantitative", "scale": {"domain": [-192, 177], "nice": false, "zero": false}, "axis": null},
                  "text": {"field": "s"}}}
   ]},
  {"width": 80, "height": 136,
   "title": {"text": "E", "dx": -52, "offset": 6},
   "data": {"name": "E"},
   "encoding": {"x": {"field": "g", "type": "nominal", "sort": null, "scale": {"paddingInner": 0.32, "paddingOuter": 0.15}, "axis": {"title": null, "labelAngle": 0}}},
   "layer": [
    {"mark": {"type": "rule", "strokeWidth": 1.3},
     "encoding": {"y": {"field": "v", "type": "quantitative", "scale": {"domain": [0, 6], "nice": false}, "axis": {"values": [0, 2, 4, 6], "title": ["Mf NMDAR EPSCs", "Frequency  Facilitation"], "titleFontSize": 11.5}},
                  "y2": {"field": "hi"},
                  "color": {"field": "g", "type": "nominal", "scale": {"domain": ["WT", "APP/PS1"], "range": ["#000000", "#8a1200"]}, "legend": null}}},
    {"mark": {"type": "tick", "thickness": 1.3, "size": 10},
     "encoding": {"y": {"field": "hi", "type": "quantitative", "scale": {"domain": [0, 6], "nice": false}, "axis": {"values": [0, 2, 4, 6], "title": ["Mf NMDAR EPSCs", "Frequency  Facilitation"], "titleFontSize": 11.5}},
                  "color": {"field": "g", "type": "nominal", "scale": {"domain": ["WT", "APP/PS1"], "range": ["#000000", "#8a1200"]}, "legend": null}}},
    {"mark": {"type": "bar", "strokeWidth": 1},
     "encoding": {"y": {"field": "v", "type": "quantitative", "scale": {"domain": [0, 6], "nice": false}, "axis": {"values": [0, 2, 4, 6], "title": ["Mf NMDAR EPSCs", "Frequency  Facilitation"], "titleFontSize": 11.5}},
                  "fill": {"field": "g", "type": "nominal", "scale": {"domain": ["WT", "APP/PS1"], "range": ["#000000", "#ff2400"]}, "legend": null},
                  "stroke": {"field": "g", "type": "nominal", "scale": {"domain": ["WT", "APP/PS1"], "range": ["#000000", "#a81800"]}, "legend": null}}}
   ]},
  {"width": 82, "height": 136,
   "title": {"text": "F", "dx": -50, "offset": 6},
   "data": {"name": "F"},
   "encoding": {"x": {"field": "g", "type": "nominal", "sort": null, "scale": {"paddingInner": 0.34, "paddingOuter": 0.2}, "axis": {"title": null, "labelAngle": 0}}},
   "layer": [
    {"mark": {"type": "rule", "strokeWidth": 1.3},
     "encoding": {"y": {"field": "v", "type": "quantitative", "scale": {"domain": [0, 150], "nice": false}, "axis": {"values": [0, 50, 100, 150], "title": ["Mf NMDA EPSCs", "decay time (ms)"]}},
                  "y2": {"field": "hi"},
                  "color": {"field": "g", "type": "nominal", "scale": {"domain": ["WT", "APP/PS1"], "range": ["#000000", "#8a1200"]}, "legend": null}}},
    {"mark": {"type": "tick", "thickness": 1.3, "size": 10},
     "encoding": {"y": {"field": "hi", "type": "quantitative", "scale": {"domain": [0, 150], "nice": false}, "axis": {"values": [0, 50, 100, 150], "title": ["Mf NMDA EPSCs", "decay time (ms)"]}},
                  "color": {"field": "g", "type": "nominal", "scale": {"domain": ["WT", "APP/PS1"], "range": ["#000000", "#8a1200"]}, "legend": null}}},
    {"mark": {"type": "bar", "strokeWidth": 1},
     "encoding": {"y": {"field": "v", "type": "quantitative", "scale": {"domain": [0, 150], "nice": false}, "axis": {"values": [0, 50, 100, 150], "title": ["Mf NMDA EPSCs", "decay time (ms)"]}},
                  "fill": {"field": "g", "type": "nominal", "scale": {"domain": ["WT", "APP/PS1"], "range": ["#000000", "#ff2400"]}, "legend": null},
                  "stroke": {"field": "g", "type": "nominal", "scale": {"domain": ["WT", "APP/PS1"], "range": ["#000000", "#a81800"]}, "legend": null}}},
    {"data": {"name": "F_txt"}, "mark": {"type": "text", "fontSize": 10, "align": "left", "baseline": "middle", "dx": -2},
     "encoding": {"x": {"field": "g", "type": "nominal", "bandPosition": 0},
                  "y": {"field": "v", "type": "quantitative", "scale": {"domain": [0, 150], "nice": false}, "axis": {"values": [0, 50, 100, 150], "title": ["Mf NMDA EPSCs", "decay time (ms)"]}},
                  "text": {"field": "s"}}}
   ]},
  {"width": 82, "height": 136,
   "title": {"text": "G", "dx": -54, "offset": 6},
   "data": {"name": "G"},
   "encoding": {"x": {"field": "g", "type": "nominal", "sort": null, "scale": {"paddingInner": 0.34, "paddingOuter": 0.2}, "axis": {"title": null, "labelAngle": 0}}},
   "layer": [
    {"mark": {"type": "rule", "strokeWidth": 1.3},
     "encoding": {"y": {"field": "v", "type": "quantitative", "scale": {"domain": [0, 150], "nice": false}, "axis": {"values": [0, 50, 100, 150], "title": ["Mf NMDA EPSCs", "decay time (ms)"]}},
                  "y2": {"field": "hi"},
                  "color": {"field": "g", "type": "nominal", "scale": {"domain": ["WT", "APP/PS1"], "range": ["#000000", "#8a1200"]}, "legend": null}}},
    {"mark": {"type": "tick", "thickness": 1.3, "size": 10},
     "encoding": {"y": {"field": "hi", "type": "quantitative", "scale": {"domain": [0, 150], "nice": false}, "axis": {"values": [0, 50, 100, 150], "title": ["Mf NMDA EPSCs", "decay time (ms)"]}},
                  "color": {"field": "g", "type": "nominal", "scale": {"domain": ["WT", "APP/PS1"], "range": ["#000000", "#8a1200"]}, "legend": null}}},
    {"mark": {"type": "bar", "strokeWidth": 1},
     "encoding": {"y": {"field": "v", "type": "quantitative", "scale": {"domain": [0, 150], "nice": false}, "axis": {"values": [0, 50, 100, 150], "title": ["Mf NMDA EPSCs", "decay time (ms)"]}},
                  "fill": {"field": "g", "type": "nominal", "scale": {"domain": ["WT", "APP/PS1"], "range": ["#000000", "#ff2400"]}, "legend": null},
                  "stroke": {"field": "g", "type": "nominal", "scale": {"domain": ["WT", "APP/PS1"], "range": ["#000000", "#a81800"]}, "legend": null}}},
    {"data": {"name": "G_txt"}, "mark": {"type": "text", "fontSize": 10, "align": "left", "baseline": "middle", "dx": -2},
     "encoding": {"x": {"field": "g", "type": "nominal", "bandPosition": 0},
                  "y": {"field": "v", "type": "quantitative", "scale": {"domain": [0, 150], "nice": false}, "axis": {"values": [0, 50, 100, 150], "title": ["Mf NMDA EPSCs", "decay time (ms)"]}},
                  "text": {"field": "s"}}}
   ]}
 ], "spacing": 70, "bounds": "flush"},
 {"hconcat": [
  {"width": 72, "height": 1, "data": {"values": []}, "mark": "point"},
  {"width": 133, "height": 137,
   "title": {"text": "H", "dx": -72, "offset": 12},
   "layer": [
    {"data": {"name": "H_dot"}, "mark": {"type": "rule", "color": "#000", "strokeWidth": 1, "strokeDash": [1.5, 1.5]},
     "encoding": {"x": {"field": "t", "type": "quantitative", "scale": {"domain": [0, 40], "nice": false}, "axis": {"values": [0, 10, 20, 30, 40], "title": "Time (min)"}},
                  "x2": {"field": "t2"},
                  "y": {"field": "v", "type": "quantitative", "scale": {"domain": [25, 150], "nice": false, "zero": false}, "axis": {"values": [25, 50, 75, 100, 125, 150], "title": ["Normalized MfEPSCs", "(% of Baseline)"]}}}},
    {"data": {"name": "H_ro"}, "mark": {"type": "rule", "color": "#555", "strokeWidth": 1.3},
     "encoding": {"x": {"field": "t", "type": "quantitative", "scale": {"domain": [0, 40], "nice": false}, "axis": {"values": [0, 10, 20, 30, 40], "title": "Time (min)"}},
                  "x2": {"field": "t2"},
                  "y": {"field": "v", "type": "quantitative", "scale": {"domain": [25, 150], "nice": false, "zero": false}, "axis": {"values": [25, 50, 75, 100, 125, 150], "title": ["Normalized MfEPSCs", "(% of Baseline)"]}}}},
    {"data": {"name": "H_rotxt"}, "mark": {"type": "text", "fontSize": 10.5, "align": "left", "baseline": "middle"},
     "encoding": {"x": {"field": "t", "type": "quantitative", "scale": {"domain": [0, 40], "nice": false}, "axis": {"values": [0, 10, 20, 30, 40], "title": "Time (min)"}},
                  "y": {"field": "v", "type": "quantitative", "scale": {"domain": [25, 150], "nice": false, "zero": false}, "axis": {"values": [25, 50, 75, 100, 125, 150], "title": ["Normalized MfEPSCs", "(% of Baseline)"]}},
                  "text": {"field": "s"}}},
    {"data": {"name": "H"}, "transform": [{"filter": {"field": "g", "equal": "WT"}}],
     "mark": {"type": "errorbar", "color": "#444", "thickness": 1},
     "encoding": {"x": {"field": "t", "type": "quantitative", "scale": {"domain": [0, 40], "nice": false}, "axis": {"values": [0, 10, 20, 30, 40], "title": "Time (min)"}},
                  "y": {"field": "v", "type": "quantitative", "scale": {"domain": [25, 150], "nice": false, "zero": false}, "axis": {"values": [25, 50, 75, 100, 125, 150], "title": ["Normalized MfEPSCs", "(% of Baseline)"]}},
                  "yError": {"field": "e"}}},
    {"data": {"name": "H"}, "transform": [{"filter": {"field": "g", "equal": "WT"}}],
     "mark": {"type": "circle", "size": 40, "color": "#000000", "opacity": 1},
     "encoding": {"x": {"field": "t", "type": "quantitative", "scale": {"domain": [0, 40], "nice": false}, "axis": {"values": [0, 10, 20, 30, 40], "title": "Time (min)"}},
                  "y": {"field": "v", "type": "quantitative", "scale": {"domain": [25, 150], "nice": false, "zero": false}, "axis": {"values": [25, 50, 75, 100, 125, 150], "title": ["Normalized MfEPSCs", "(% of Baseline)"]}}}},
    {"data": {"name": "H"}, "transform": [{"filter": {"field": "g", "equal": "APP"}}],
     "mark": {"type": "errorbar", "color": "#444", "thickness": 1},
     "encoding": {"x": {"field": "t", "type": "quantitative", "scale": {"domain": [0, 40], "nice": false}, "axis": {"values": [0, 10, 20, 30, 40], "title": "Time (min)"}},
                  "y": {"field": "v", "type": "quantitative", "scale": {"domain": [25, 150], "nice": false, "zero": false}, "axis": {"values": [25, 50, 75, 100, 125, 150], "title": ["Normalized MfEPSCs", "(% of Baseline)"]}},
                  "yError": {"field": "e"}}},
    {"data": {"name": "H"}, "transform": [{"filter": {"field": "g", "equal": "APP"}}],
     "mark": {"type": "circle", "size": 40, "fill": "#ff2a00", "stroke": "#8a0a00", "strokeWidth": 0.6, "opacity": 1},
     "encoding": {"x": {"field": "t", "type": "quantitative", "scale": {"domain": [0, 40], "nice": false}, "axis": {"values": [0, 10, 20, 30, 40], "title": "Time (min)"}},
                  "y": {"field": "v", "type": "quantitative", "scale": {"domain": [25, 150], "nice": false, "zero": false}, "axis": {"values": [25, 50, 75, 100, 125, 150], "title": ["Normalized MfEPSCs", "(% of Baseline)"]}}}},
    {"data": {"name": "H_leg"}, "transform": [{"filter": {"field": "g", "equal": "APP"}}],
     "mark": {"type": "circle", "size": 45, "fill": "#ff2a00", "stroke": "#8a0a00", "strokeWidth": 0.6, "opacity": 1},
     "encoding": {"x": {"field": "t", "type": "quantitative", "scale": {"domain": [0, 40], "nice": false}, "axis": {"values": [0, 10, 20, 30, 40], "title": "Time (min)"}},
                  "y": {"field": "v", "type": "quantitative", "scale": {"domain": [25, 150], "nice": false, "zero": false}, "axis": {"values": [25, 50, 75, 100, 125, 150], "title": ["Normalized MfEPSCs", "(% of Baseline)"]}}}},
    {"data": {"name": "H_leg"}, "transform": [{"filter": {"field": "g", "equal": "WT"}}],
     "mark": {"type": "circle", "size": 45, "color": "#000000", "opacity": 1},
     "encoding": {"x": {"field": "t", "type": "quantitative", "scale": {"domain": [0, 40], "nice": false}, "axis": {"values": [0, 10, 20, 30, 40], "title": "Time (min)"}},
                  "y": {"field": "v", "type": "quantitative", "scale": {"domain": [25, 150], "nice": false, "zero": false}, "axis": {"values": [25, 50, 75, 100, 125, 150], "title": ["Normalized MfEPSCs", "(% of Baseline)"]}}}},
    {"data": {"name": "H_leg"}, "mark": {"type": "text", "fontSize": 11, "fontWeight": "normal", "align": "left", "baseline": "middle"},
     "encoding": {"x": {"field": "tx", "type": "quantitative", "scale": {"domain": [0, 40], "nice": false}, "axis": {"values": [0, 10, 20, 30, 40], "title": "Time (min)"}},
                  "y": {"field": "v", "type": "quantitative", "scale": {"domain": [25, 150], "nice": false, "zero": false}, "axis": {"values": [25, 50, 75, 100, 125, 150], "title": ["Normalized MfEPSCs", "(% of Baseline)"]}},
                  "text": {"field": "s"}}}
   ]},
  {"width": 329, "height": 214,
   "title": {"text": "I", "dx": 40, "offset": 12},
   "layer": [
    {"data": {"name": "I_bg"}, "mark": {"type": "line", "strokeWidth": 1.6},
     "encoding": {"x": {"field": "t", "type": "quantitative", "scale": {"domain": [0, 1316], "nice": false, "zero": false}, "axis": null},
                  "y": {"field": "i", "type": "quantitative", "scale": {"domain": [-507, 285], "nice": false, "zero": false}, "axis": null},
                  "color": {"field": "g", "type": "nominal", "scale": {"domain": ["WT","WTgray","APP","APPpink"], "range": ["#111111","#8e8e8e","#ee1111","#f28a8a"]}, "legend": null},
                  "detail": {"field": "tr", "type": "nominal"}}},
    {"data": {"name": "I_art"}, "mark": {"type": "rule", "strokeWidth": 1.3},
     "encoding": {"x": {"field": "t", "type": "quantitative", "scale": {"domain": [0, 1316], "nice": false, "zero": false}, "axis": null},
                  "y": {"field": "i", "type": "quantitative", "scale": {"domain": [-507, 285], "nice": false, "zero": false}, "axis": null},
                  "y2": {"field": "i2"},
                  "color": {"field": "g", "type": "nominal", "scale": {"domain": ["WT","WTgray","APP","APPpink"], "range": ["#111111","#8e8e8e","#ee1111","#f28a8a"]}, "legend": null}}},
    {"data": {"name": "I_fg"}, "mark": {"type": "line", "strokeWidth": 1.6},
     "encoding": {"x": {"field": "t", "type": "quantitative", "scale": {"domain": [0, 1316], "nice": false, "zero": false}, "axis": null},
                  "y": {"field": "i", "type": "quantitative", "scale": {"domain": [-507, 285], "nice": false, "zero": false}, "axis": null},
                  "color": {"field": "g", "type": "nominal", "scale": {"domain": ["WT","WTgray","APP","APPpink"], "range": ["#111111","#8e8e8e","#ee1111","#f28a8a"]}, "legend": null},
                  "detail": {"field": "tr", "type": "nominal"}}},
    {"data": {"name": "I_sb"}, "mark": {"type": "rule", "color": "#222222", "strokeWidth": 1},
     "encoding": {"x": {"field": "t", "type": "quantitative", "scale": {"domain": [0, 1316], "nice": false, "zero": false}, "axis": null},
                  "x2": {"field": "t2"},
                  "y": {"field": "i", "type": "quantitative", "scale": {"domain": [-507, 285], "nice": false, "zero": false}, "axis": null},
                  "y2": {"field": "i2"}}},
    {"data": {"name": "I_txtL"}, "mark": {"type": "text", "fontSize": 11, "align": "left", "baseline": "middle"},
     "encoding": {"x": {"field": "t", "type": "quantitative", "scale": {"domain": [0, 1316], "nice": false, "zero": false}, "axis": null},
                  "y": {"field": "i", "type": "quantitative", "scale": {"domain": [-507, 285], "nice": false, "zero": false}, "axis": null},
                  "color": {"field": "g", "type": "nominal", "scale": {"domain": ["WT","WTgray","APP","APPpink"], "range": ["#111111","#8e8e8e","#ee1111","#f28a8a"]}, "legend": null},
                  "text": {"field": "s"}}},
    {"data": {"name": "I_txtC"}, "mark": {"type": "text", "fontSize": 11, "align": "center", "baseline": "middle"},
     "encoding": {"x": {"field": "t", "type": "quantitative", "scale": {"domain": [0, 1316], "nice": false, "zero": false}, "axis": null},
                  "y": {"field": "i", "type": "quantitative", "scale": {"domain": [-507, 285], "nice": false, "zero": false}, "axis": null},
                  "text": {"field": "s"}}},
    {"data": {"name": "I_vtxt"}, "mark": {"type": "text", "fontSize": 11, "angle": 270, "align": "center", "baseline": "middle"},
     "encoding": {"x": {"field": "t", "type": "quantitative", "scale": {"domain": [0, 1316], "nice": false, "zero": false}, "axis": null},
                  "y": {"field": "i", "type": "quantitative", "scale": {"domain": [-507, 285], "nice": false, "zero": false}, "axis": null},
                  "text": {"field": "s"}}}
   ]},
  {"width": 165, "height": 136,
   "title": {"text": "J", "dx": -61, "offset": 12},
   "data": {"name": "J"},
   "encoding": {"x": {"field": "c", "type": "nominal", "sort": null, "scale": {"paddingInner": 0.34, "paddingOuter": 0.2}, "axis": {"title": null, "labelAngle": -45, "labelFontSize": 9.5, "labelExpr": "datum.value == 'b1' || datum.value == 'b2' ? 'Baseline' : \"30'Ro 25-6981\""}}},
   "layer": [
    {"mark": {"type": "rule", "strokeWidth": 1.3},
     "encoding": {"y": {"field": "v", "type": "quantitative", "scale": {"domain": [0, 150], "nice": false}, "axis": {"values": [0, 50, 100, 150], "title": ["Mf NMDAR EPSCs", "Decay Time (ms)"]}},
                  "y2": {"field": "hi"},
                  "color": {"field": "g", "type": "nominal", "scale": {"domain": ["WT", "APP/PS1"], "range": ["#000000", "#8a1200"]}, "legend": null}}},
    {"mark": {"type": "tick", "thickness": 1.3, "size": 10},
     "encoding": {"y": {"field": "hi", "type": "quantitative", "scale": {"domain": [0, 150], "nice": false}, "axis": {"values": [0, 50, 100, 150], "title": ["Mf NMDAR EPSCs", "Decay Time (ms)"]}},
                  "color": {"field": "g", "type": "nominal", "scale": {"domain": ["WT", "APP/PS1"], "range": ["#000000", "#8a1200"]}, "legend": null}}},
    {"mark": {"type": "bar", "strokeWidth": 1},
     "encoding": {"y": {"field": "v", "type": "quantitative", "scale": {"domain": [0, 150], "nice": false}, "axis": {"values": [0, 50, 100, 150], "title": ["Mf NMDAR EPSCs", "Decay Time (ms)"]}},
                  "fill": {"field": "g", "type": "nominal", "scale": {"domain": ["WT", "APP/PS1"], "range": ["#000000", "#ff2400"]}, "legend": null},
                  "stroke": {"field": "g", "type": "nominal", "scale": {"domain": ["WT", "APP/PS1"], "range": ["#000000", "#a81800"]}, "legend": null}}},
    {"data": {"name": "J_stars"}, "mark": {"type": "text", "fontSize": 10, "align": "center", "baseline": "middle"},
     "encoding": {"y": {"field": "v", "type": "quantitative", "scale": {"domain": [0, 150], "nice": false}, "axis": {"values": [0, 50, 100, 150], "title": ["Mf NMDAR EPSCs", "Decay Time (ms)"]}},
                  "text": {"field": "s"}}},
    {"data": {"name": "J_hz"}, "mark": {"type": "text", "fontSize": 10, "align": "left", "baseline": "middle", "dx": -1},
     "encoding": {"x": {"field": "c", "type": "nominal", "bandPosition": 0},
                  "y": {"field": "v", "type": "quantitative", "scale": {"domain": [0, 150], "nice": false}, "axis": {"values": [0, 50, 100, 150], "title": ["Mf NMDAR EPSCs", "Decay Time (ms)"]}},
                  "text": {"field": "s"}}}
   ]}
 ], "spacing": 0, "bounds": "flush"},
 {"hconcat": [
  {"width": 73, "height": 1, "data": {"values": []}, "mark": "point"},
  {"width": 190, "height": 140,
   "title": {"text": "K", "dx": -56, "offset": 25},
   "layer": [
    {"data": {"name": "K_dot"}, "mark": {"type": "rule", "color": "#000", "strokeWidth": 1, "strokeDash": [1.5, 1.5]},
     "encoding": {"x": {"field": "t", "type": "quantitative", "scale": {"domain": [0, 60], "nice": false}, "axis": {"values": [0, 10, 20, 30, 40, 50, 60], "title": "Time (min)"}},
                  "x2": {"field": "t2"},
                  "y": {"field": "v", "type": "quantitative", "scale": {"domain": [0, 311], "nice": false}, "axis": {"values": [0, 100, 200, 300], "title": ["Normalized MfEPSCs", "(% of Baseline)"]}}}},
    {"data": {"name": "K_bar"}, "mark": {"type": "rule", "color": "#000", "strokeWidth": 1.8},
     "encoding": {"x": {"field": "t", "type": "quantitative", "scale": {"domain": [0, 60], "nice": false}, "axis": {"values": [0, 10, 20, 30, 40, 50, 60], "title": "Time (min)"}},
                  "x2": {"field": "t2"},
                  "y": {"field": "v", "type": "quantitative", "scale": {"domain": [0, 311], "nice": false}, "axis": {"values": [0, 100, 200, 300], "title": ["Normalized MfEPSCs", "(% of Baseline)"]}}}},
    {"data": {"name": "K_txt"}, "mark": {"type": "text", "fontSize": 10, "align": "center", "baseline": "middle"},
     "encoding": {"x": {"field": "t", "type": "quantitative", "scale": {"domain": [0, 60], "nice": false}, "axis": {"values": [0, 10, 20, 30, 40, 50, 60], "title": "Time (min)"}},
                  "y": {"field": "v", "type": "quantitative", "scale": {"domain": [0, 311], "nice": false}, "axis": {"values": [0, 100, 200, 300], "title": ["Normalized MfEPSCs", "(% of Baseline)"]}},
                  "text": {"field": "s"}}},
    {"data": {"name": "K_arr"}, "mark": {"type": "rule", "color": "#000", "strokeWidth": 1.5},
     "encoding": {"x": {"field": "t", "type": "quantitative", "scale": {"domain": [0, 60], "nice": false}, "axis": {"values": [0, 10, 20, 30, 40, 50, 60], "title": "Time (min)"}},
                  "y": {"field": "v", "type": "quantitative", "scale": {"domain": [0, 311], "nice": false}, "axis": {"values": [0, 100, 200, 300], "title": ["Normalized MfEPSCs", "(% of Baseline)"]}},
                  "y2": {"field": "v2"}}},
    {"data": {"name": "K_head"}, "mark": {"type": "point", "shape": "triangle-up", "filled": true, "color": "#000", "size": 40, "opacity": 1},
     "encoding": {"x": {"field": "t", "type": "quantitative", "scale": {"domain": [0, 60], "nice": false}, "axis": {"values": [0, 10, 20, 30, 40, 50, 60], "title": "Time (min)"}},
                  "y": {"field": "v", "type": "quantitative", "scale": {"domain": [0, 311], "nice": false}, "axis": {"values": [0, 100, 200, 300], "title": ["Normalized MfEPSCs", "(% of Baseline)"]}}}},
    {"data": {"name": "K"}, "transform": [{"filter": {"field": "g", "equal": "WT"}}],
     "mark": {"type": "errorbar", "color": "#444", "thickness": 1},
     "encoding": {"x": {"field": "t", "type": "quantitative", "scale": {"domain": [0, 60], "nice": false}, "axis": {"values": [0, 10, 20, 30, 40, 50, 60], "title": "Time (min)"}},
                  "y": {"field": "v", "type": "quantitative", "scale": {"domain": [0, 311], "nice": false}, "axis": {"values": [0, 100, 200, 300], "title": ["Normalized MfEPSCs", "(% of Baseline)"]}},
                  "yError": {"field": "e"}}},
    {"data": {"name": "K"}, "transform": [{"filter": {"field": "g", "equal": "WT"}}],
     "mark": {"type": "circle", "size": 38, "color": "#000000", "opacity": 1},
     "encoding": {"x": {"field": "t", "type": "quantitative", "scale": {"domain": [0, 60], "nice": false}, "axis": {"values": [0, 10, 20, 30, 40, 50, 60], "title": "Time (min)"}},
                  "y": {"field": "v", "type": "quantitative", "scale": {"domain": [0, 311], "nice": false}, "axis": {"values": [0, 100, 200, 300], "title": ["Normalized MfEPSCs", "(% of Baseline)"]}}}},
    {"data": {"name": "K"}, "transform": [{"filter": {"field": "g", "equal": "APP"}}],
     "mark": {"type": "errorbar", "color": "#444", "thickness": 1},
     "encoding": {"x": {"field": "t", "type": "quantitative", "scale": {"domain": [0, 60], "nice": false}, "axis": {"values": [0, 10, 20, 30, 40, 50, 60], "title": "Time (min)"}},
                  "y": {"field": "v", "type": "quantitative", "scale": {"domain": [0, 311], "nice": false}, "axis": {"values": [0, 100, 200, 300], "title": ["Normalized MfEPSCs", "(% of Baseline)"]}},
                  "yError": {"field": "e"}}},
    {"data": {"name": "K"}, "transform": [{"filter": {"field": "g", "equal": "APP"}}],
     "mark": {"type": "circle", "size": 38, "fill": "#ff2a00", "stroke": "#8a0a00", "strokeWidth": 0.6, "opacity": 1},
     "encoding": {"x": {"field": "t", "type": "quantitative", "scale": {"domain": [0, 60], "nice": false}, "axis": {"values": [0, 10, 20, 30, 40, 50, 60], "title": "Time (min)"}},
                  "y": {"field": "v", "type": "quantitative", "scale": {"domain": [0, 311], "nice": false}, "axis": {"values": [0, 100, 200, 300], "title": ["Normalized MfEPSCs", "(% of Baseline)"]}}}}
   ]},
  {"width": 77, "height": 1, "data": {"values": []}, "mark": "point"},
  {"width": 80, "height": 135,
   "title": {"text": "L", "dx": -108, "offset": 25},
   "data": {"name": "L"},
   "encoding": {"x": {"field": "g", "type": "nominal", "sort": null, "scale": {"paddingInner": 0.33, "paddingOuter": 0.17}, "axis": {"title": null, "labelAngle": 0}}},
   "layer": [
    {"mark": {"type": "rule", "strokeWidth": 1.3},
     "encoding": {"y": {"field": "v", "type": "quantitative", "scale": {"domain": [0, 150], "nice": false}, "axis": {"values": [0, 50, 100, 150], "title": ["Mf-NMDAR EPSCs", "(% of Baseline)"]}},
                  "y2": {"field": "hi"},
                  "color": {"field": "g", "type": "nominal", "scale": {"domain": ["WT", "APP/PS1"], "range": ["#000000", "#8a1200"]}, "legend": null}}},
    {"mark": {"type": "tick", "thickness": 1.3, "size": 10},
     "encoding": {"y": {"field": "hi", "type": "quantitative", "scale": {"domain": [0, 150], "nice": false}, "axis": {"values": [0, 50, 100, 150], "title": ["Mf-NMDAR EPSCs", "(% of Baseline)"]}},
                  "color": {"field": "g", "type": "nominal", "scale": {"domain": ["WT", "APP/PS1"], "range": ["#000000", "#8a1200"]}, "legend": null}}},
    {"mark": {"type": "bar", "strokeWidth": 1},
     "encoding": {"y": {"field": "v", "type": "quantitative", "scale": {"domain": [0, 150], "nice": false}, "axis": {"values": [0, 50, 100, 150], "title": ["Mf-NMDAR EPSCs", "(% of Baseline)"]}},
                  "fill": {"field": "g", "type": "nominal", "scale": {"domain": ["WT", "APP/PS1"], "range": ["#000000", "#ff2400"]}, "legend": null},
                  "stroke": {"field": "g", "type": "nominal", "scale": {"domain": ["WT", "APP/PS1"], "range": ["#000000", "#a81800"]}, "legend": null}}},
    {"data": {"name": "L_txt"}, "mark": {"type": "text", "fontSize": 11, "align": "center", "baseline": "middle"},
     "encoding": {"y": {"field": "v", "type": "quantitative", "scale": {"domain": [0, 150], "nice": false}, "axis": {"values": [0, 50, 100, 150], "title": ["Mf-NMDAR EPSCs", "(% of Baseline)"]}},
                  "text": {"field": "s"}}}
   ]},
  {"width": 280, "height": 150,
   "title": {"text": "M", "dx": 52, "offset": 30},
   "layer": [
    {"data": {"name": "M_dot"}, "mark": {"type": "rule", "color": "#999999", "strokeWidth": 0.8, "strokeDash": [1.5, 1.5]},
     "encoding": {"x": {"field": "t", "type": "quantitative", "scale": {"domain": [0, 1167], "nice": false, "zero": false}, "axis": null},
                  "x2": {"field": "t2"},
                  "y": {"field": "i", "type": "quantitative", "scale": {"domain": [-215, 160], "nice": false, "zero": false}, "axis": null}}},
    {"data": {"name": "M_art"}, "mark": {"type": "rule", "strokeWidth": 1.2},
     "encoding": {"x": {"field": "t", "type": "quantitative", "scale": {"domain": [0, 1167], "nice": false, "zero": false}, "axis": null},
                  "y": {"field": "i", "type": "quantitative", "scale": {"domain": [-215, 160], "nice": false, "zero": false}, "axis": null},
                  "y2": {"field": "i2"},
                  "color": {"field": "g", "type": "nominal", "scale": {"domain": ["WT","WTgray","APP","APPpink"], "range": ["#111111","#8e8e8e","#ee1111","#f28a8a"]}, "legend": null}}},
    {"data": {"name": "M_fg"}, "mark": {"type": "line", "strokeWidth": 1.3},
     "encoding": {"x": {"field": "t", "type": "quantitative", "scale": {"domain": [0, 1167], "nice": false, "zero": false}, "axis": null},
                  "y": {"field": "i", "type": "quantitative", "scale": {"domain": [-215, 160], "nice": false, "zero": false}, "axis": null},
                  "color": {"field": "g", "type": "nominal", "scale": {"domain": ["WT","WTgray","APP","APPpink"], "range": ["#111111","#8e8e8e","#ee1111","#f28a8a"]}, "legend": null},
                  "detail": {"field": "tr", "type": "nominal"}}},
    {"data": {"name": "M_sb"}, "mark": {"type": "rule", "color": "#222222", "strokeWidth": 1},
     "encoding": {"x": {"field": "t", "type": "quantitative", "scale": {"domain": [0, 1167], "nice": false, "zero": false}, "axis": null},
                  "x2": {"field": "t2"},
                  "y": {"field": "i", "type": "quantitative", "scale": {"domain": [-215, 160], "nice": false, "zero": false}, "axis": null},
                  "y2": {"field": "i2"}}},
    {"data": {"name": "M_txtL"}, "mark": {"type": "text", "fontSize": 11.5, "align": "left", "baseline": "middle"},
     "encoding": {"x": {"field": "t", "type": "quantitative", "scale": {"domain": [0, 1167], "nice": false, "zero": false}, "axis": null},
                  "y": {"field": "i", "type": "quantitative", "scale": {"domain": [-215, 160], "nice": false, "zero": false}, "axis": null},
                  "text": {"field": "s"}}},
    {"data": {"name": "M_txtC"}, "mark": {"type": "text", "fontSize": 11, "align": "center", "baseline": "middle"},
     "encoding": {"x": {"field": "t", "type": "quantitative", "scale": {"domain": [0, 1167], "nice": false, "zero": false}, "axis": null},
                  "y": {"field": "i", "type": "quantitative", "scale": {"domain": [-215, 160], "nice": false, "zero": false}, "axis": null},
                  "text": {"field": "s"}}},
    {"data": {"name": "M_vtxt"}, "mark": {"type": "text", "fontSize": 11, "angle": 270, "align": "center", "baseline": "middle"},
     "encoding": {"x": {"field": "t", "type": "quantitative", "scale": {"domain": [0, 1167], "nice": false, "zero": false}, "axis": null},
                  "y": {"field": "i", "type": "quantitative", "scale": {"domain": [-215, 160], "nice": false, "zero": false}, "axis": null},
                  "text": {"field": "s"}}}
   ]}
 ], "spacing": 0, "bounds": "flush"}
]
}
